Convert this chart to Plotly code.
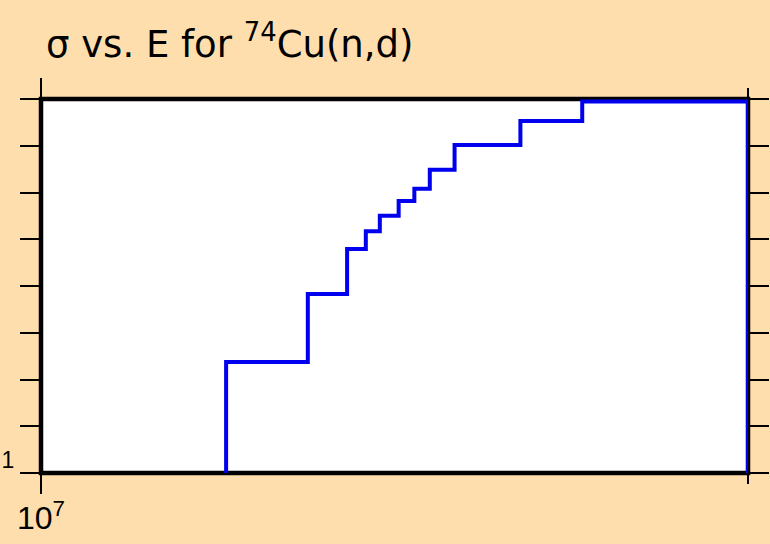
import numpy as np
import plotly.graph_objects as go

# bin edges of the step curve (eV) and cross-section levels (axis units)
energy = [1.199e7, 1.299e7, 1.350e7, 1.375e7, 1.394e7, 1.420e7, 1.442e7,
          1.464e7, 1.500e7, 1.600e7, 1.700e7, 2.0e7, 2.0e7]
sigma = [1.0, 3.377, 4.827, 5.790, 6.169, 6.503, 6.818, 7.081,
         7.488, 8.017, 8.531, 8.944, 1.0]

x_ticks = [1e7]
x_ticktext = ["10<sup>7</sup>"]
x_minor = [2e7]
y_ticks = [1]
y_ticktext = ["1"]
y_minor = [2, 3, 4, 5, 6, 7, 8, 9]

FONT = "Liberation Sans, Arial, sans-serif"

fig = go.Figure()
fig.add_trace(go.Scatter(
    x=energy, y=sigma, mode="lines", line_shape="vh",
    line=dict(color="#0000ee", width=4), showlegend=False,
))

# white frame with thick black border
fig.add_shape(type="rect", xref="paper", yref="paper", x0=0, x1=1, y0=0, y1=1,
              line=dict(color="black", width=4.5), fillcolor="white", layer="below")

tick_style = dict(ticks="outside", ticklen=20, tickwidth=2, tickcolor="black")

fig.update_xaxes(
    type="log", range=[7, np.log10(2e7)],
    tickmode="array", tickvals=x_ticks, ticktext=x_ticktext, **tick_style,
    minor=dict(tickmode="array", tickvals=x_minor, ticks="outside", ticklen=10,
               tickwidth=2, tickcolor="black"),
    mirror="ticks", showline=False, showgrid=False, zeroline=False,
    tickfont=dict(family=FONT, size=32, color="black"),
    ticklabelstandoff=-3,
)
fig.update_yaxes(
    range=[1, 9], tickmode="array", tickvals=y_ticks, ticktext=y_ticktext, **tick_style,
    minor=dict(tickmode="array", tickvals=y_minor, ticks="outside", ticklen=20,
               tickwidth=2, tickcolor="black"),
    mirror="ticks", showline=False, showgrid=False, zeroline=False,
    tickfont=dict(family=FONT, size=23, color="black"),
    ticklabelshift=-13, ticklabelstandoff=1,
)

fig.update_layout(
    width=770, height=544,
    margin=dict(l=41, r=22, t=99, b=71, autoexpand=False),
    paper_bgcolor="#ffdead", plot_bgcolor="rgba(0,0,0,0)",
    title=dict(text="σ vs. E for <sup>74</sup>Cu(n,d)",
               x=46 / 770, xanchor="left", xref="container",
               y=1 - 44 / 544, yanchor="middle", yref="container",
               font=dict(family="DejaVu Sans", size=37, color="black")),
)

fig.write_html("out.html", config={"displayModeBar": False},
               post_script="document.body.style.margin='0';")
